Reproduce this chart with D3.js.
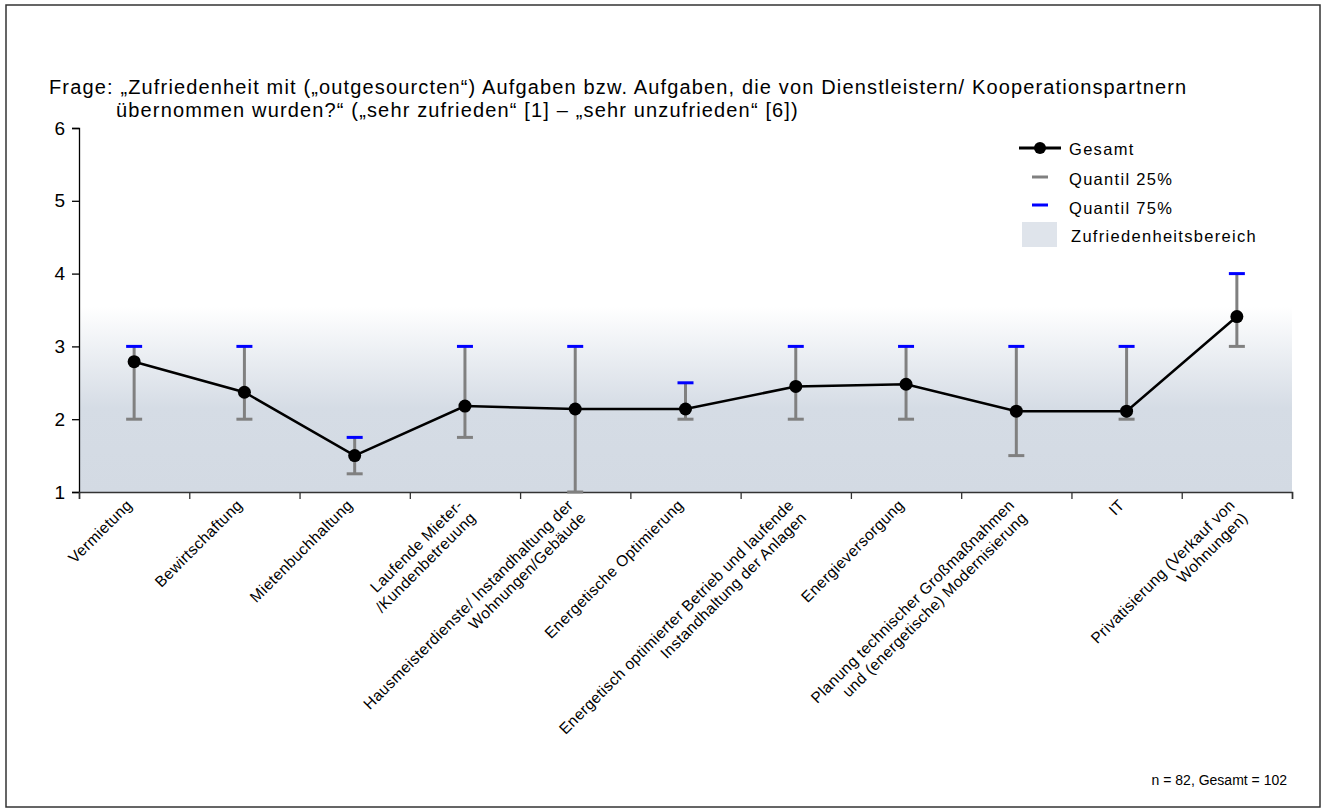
<!DOCTYPE html>
<html>
<head>
<meta charset="utf-8">
<script src="https://cdn.jsdelivr.net/npm/d3@7"></script>
<style>
  body { margin: 0; background: #fff; }
  text { font-family: "Liberation Sans", Arial, sans-serif; fill: #000; }
</style>
</head>
<body>
<div id="chart"></div>
<script>
var categories = [
  ["Vermietung"],
  ["Bewirtschaftung"],
  ["Mietenbuchhaltung"],
  ["Laufende Mieter-", "/Kundenbetreuung"],
  ["Hausmeisterdienste/ Instandhaltung der", "Wohnungen/Gebäude"],
  ["Energetische Optimierung"],
  ["Energetisch optimierter Betrieb und laufende", "Instandhaltung der Anlagen"],
  ["Energieversorgung"],
  ["Planung technischer Großmaßnahmen", "und (energetische) Modernisierung"],
  ["IT"],
  ["Privatisierung (Verkauf  von", "Wohnungen)"]
];
var gesamt = [2.79, 2.37, 1.50, 2.18, 2.14, 2.14, 2.45, 2.48, 2.11, 2.11, 3.41];
var quantil25 = [2, 2, 1.25, 1.75, 1, 2, 2, 2, 1.5, 2, 3];
var quantil75 = [3, 3, 1.75, 3, 3, 2.5, 3, 3, 3, 3, 4];
var yTicks = [1, 2, 3, 4, 5, 6];
var bereich = [1, 3.55];

var W = 1328, H = 812;
var svg = d3.select("#chart").append("svg")
  .attr("width", W)
  .attr("height", H);

// frame
svg.append("rect")
  .attr("x", 6).attr("y", 5)
  .attr("width", 1314).attr("height", 802)
  .attr("fill", "none")
  .attr("stroke", "#333")
  .attr("stroke-width", 1.5);

var pLeft = 79, pRight = 1292, pTop = 128, pBottom = 492;

var x = d3.scaleBand()
  .domain(d3.range(categories.length))
  .range([pLeft, pRight]);
var y = d3.scaleLinear()
  .domain([1, 6])
  .range([pBottom, pTop]);

// title
var title = svg.append("text")
  .attr("font-size", 20)
  .attr("letter-spacing", 1.15);
title.append("tspan").attr("x", 49).attr("y", 94)
  .text("Frage: \u201EZufriedenheit mit (\u201Eoutgesourcten\u201C) Aufgaben bzw. Aufgaben, die von Dienstleistern/ Kooperationspartnern");
title.append("tspan").attr("x", 116).attr("y", 117)
  .text("übernommen wurden?\u201C (\u201Esehr zufrieden\u201C [1] \u2013 \u201Esehr unzufrieden\u201C [6])");

// gradient for Zufriedenheitsbereich
var grad = svg.append("defs").append("linearGradient")
  .attr("id", "zb")
  .attr("x1", 0).attr("y1", 0).attr("x2", 0).attr("y2", 1);
grad.append("stop").attr("offset", "0%").attr("stop-color", "#ffffff");
grad.append("stop").attr("offset", "55%").attr("stop-color", "#d5dce5");
grad.append("stop").attr("offset", "100%").attr("stop-color", "#d3dae3");

svg.append("rect")
  .attr("x", pLeft)
  .attr("y", y(bereich[1]))
  .attr("width", pRight - pLeft)
  .attr("height", y(bereich[0]) - y(bereich[1]))
  .attr("fill", "url(#zb)");

// y axis
var yAxis = svg.append("g")
  .attr("transform", "translate(" + pLeft + ",0)")
  .call(d3.axisLeft(y).tickValues(yTicks).tickFormat(d3.format("d")).tickSize(7).tickPadding(7));
yAxis.select(".domain").attr("stroke", "#000").attr("stroke-width", 1.3);
yAxis.selectAll(".tick line").attr("stroke", "#000").attr("stroke-width", 1.3);
yAxis.selectAll(".tick text")
  .attr("font-size", 19)
  .attr("font-family", "Liberation Sans, Arial, sans-serif");

// x axis (ticks at category boundaries)
var xb = d3.scaleLinear().domain([0, categories.length]).range([pLeft, pRight]);
var xAxis = svg.append("g")
  .attr("transform", "translate(0," + pBottom + ")")
  .call(d3.axisBottom(xb).ticks(categories.length).tickSize(7).tickFormat(""));
xAxis.select(".domain").attr("stroke", "#333").attr("stroke-width", 1.5);
xAxis.selectAll(".tick line").attr("stroke", "#333").attr("stroke-width", 1.3);

// category labels
var lab = svg.append("g").selectAll("text")
  .data(categories)
  .enter()
  .append("text")
  .attr("font-size", 15.5)
  .attr("letter-spacing", 0.4)
  .attr("text-anchor", "end")
  .attr("transform", function(d, i) {
    return "translate(" + (x(i) + x.bandwidth() / 2 - 1) + "," + (pBottom + 14) + ") rotate(-45)";
  });
lab.selectAll("tspan")
  .data(function(d) { return d; })
  .enter()
  .append("tspan")
  .attr("x", 0)
  .attr("dy", function(d, j) { return j === 0 ? 0 : 18; })
  .text(function(d) { return d; });

var cx = function(i) { return x(i) + x.bandwidth() / 2; };

// whiskers
svg.append("g").selectAll("line")
  .data(gesamt)
  .enter()
  .append("line")
  .attr("x1", function(d, i) { return cx(i); })
  .attr("x2", function(d, i) { return cx(i); })
  .attr("y1", function(d, i) { return y(quantil25[i]); })
  .attr("y2", function(d, i) { return y(quantil75[i]); })
  .attr("stroke", "#808080")
  .attr("stroke-width", 3);

svg.append("g").selectAll("line")
  .data(quantil25)
  .enter()
  .append("line")
  .attr("x1", function(d, i) { return cx(i) - 8; })
  .attr("x2", function(d, i) { return cx(i) + 8; })
  .attr("y1", function(d) { return y(d); })
  .attr("y2", function(d) { return y(d); })
  .attr("stroke", "#808080")
  .attr("stroke-width", 3);

svg.append("g").selectAll("line")
  .data(quantil75)
  .enter()
  .append("line")
  .attr("x1", function(d, i) { return cx(i) - 8; })
  .attr("x2", function(d, i) { return cx(i) + 8; })
  .attr("y1", function(d) { return y(d); })
  .attr("y2", function(d) { return y(d); })
  .attr("stroke", "#0000ff")
  .attr("stroke-width", 3);

// Gesamt line + points
var line = d3.line()
  .x(function(d, i) { return cx(i); })
  .y(function(d) { return y(d); });
svg.append("path")
  .datum(gesamt)
  .attr("d", line)
  .attr("fill", "none")
  .attr("stroke", "#000")
  .attr("stroke-width", 2.5);

svg.append("g").selectAll("circle")
  .data(gesamt)
  .enter()
  .append("circle")
  .attr("cx", function(d, i) { return cx(i); })
  .attr("cy", function(d) { return y(d); })
  .attr("r", 6.5)
  .attr("fill", "#000");

// legend
var lg = svg.append("g").attr("font-size", 16.5).attr("letter-spacing", 1.3);
lg.append("line").attr("x1", 1019).attr("x2", 1061).attr("y1", 148).attr("y2", 148)
  .attr("stroke", "#000").attr("stroke-width", 3);
lg.append("circle").attr("cx", 1040).attr("cy", 148).attr("r", 6).attr("fill", "#000");
lg.append("text").attr("x", 1069).attr("y", 155).text("Gesamt");
lg.append("line").attr("x1", 1032).attr("x2", 1048).attr("y1", 177).attr("y2", 177)
  .attr("stroke", "#808080").attr("stroke-width", 3);
lg.append("text").attr("x", 1069).attr("y", 185).text("Quantil 25%");
lg.append("line").attr("x1", 1032).attr("x2", 1048).attr("y1", 205).attr("y2", 205)
  .attr("stroke", "#0000ff").attr("stroke-width", 3);
lg.append("text").attr("x", 1069).attr("y", 214).text("Quantil 75%");
lg.append("rect").attr("x", 1022).attr("y", 222).attr("width", 35).attr("height", 25)
  .attr("fill", "#dfe4eb");
lg.append("text").attr("x", 1071).attr("y", 242).text("Zufriedenheitsbereich");

// footnote
svg.append("text")
  .attr("x", 1287).attr("y", 785)
  .attr("text-anchor", "end")
  .attr("font-size", 14)
  .text("n = 82,  Gesamt  = 102");
</script>
</body>
</html>
